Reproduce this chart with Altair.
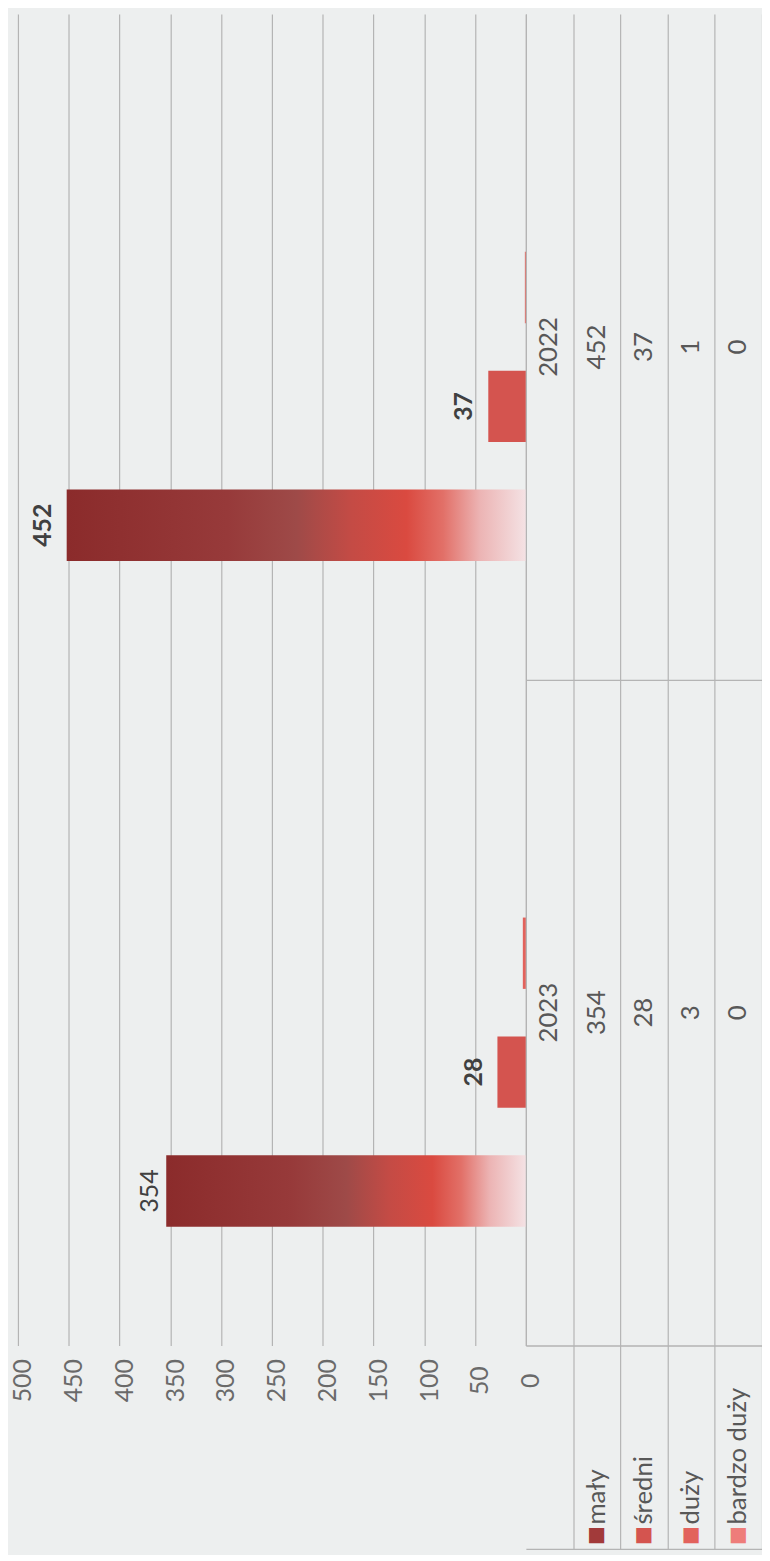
import altair as alt
import pandas as pd

# ---- data ----
years = ["2022", "2023"]
series = ["mały", "średni", "duży", "bardzo duży"]
values_2022 = [452, 37, 1, 0]
values_2023 = [354, 28, 3, 0]
axis_values = [0, 50, 100, 150, 200, 250, 300, 350, 400, 450, 500]
header_key = "rok"

# ---- styles ----
FONT = "Lato"
series_colors = ["#A23A3A", "#D4544F", "#E2625C", "#EE7D7A"]
GRID = "#b4b4b4"
W_PLOT, H_PLOT, W_TAB, H_LEG = 512, 1342, 238, 205

rows = []
for yr, vals in zip(years, [values_2022, values_2023]):
    for s, v in zip(series, vals):
        rows.append({"year": yr, "series": s, "value": v})
df = pd.DataFrame(rows)

table_rows = [{"year": yr, "col": header_key, "text": yr} for yr in years]
table_rows += [{"year": r["year"], "col": r["series"], "text": str(r["value"])} for r in rows]
tdf = pd.DataFrame(table_rows)

legend_df = pd.DataFrame({"series": series, "row": ["legend"] * len(series)})

gradient = alt.LinearGradient(
    gradient="linear", x1=0, x2=1, y1=0, y2=0,
    stops=[
        alt.GradientStop(offset=0.0, color="#8B2B2B"),
        alt.GradientStop(offset=0.35, color="#973A3A"),
        alt.GradientStop(offset=0.50, color="#9E4A48"),
        alt.GradientStop(offset=0.62, color="#C44B45"),
        alt.GradientStop(offset=0.74, color="#DA4A40"),
        alt.GradientStop(offset=0.82, color="#E27068"),
        alt.GradientStop(offset=0.90, color="#ECB4B4"),
        alt.GradientStop(offset=1.0, color="#F4E2E4"),
    ],
)

x_enc = alt.X(
    "value:Q",
    scale=alt.Scale(domain=[0, 500], reverse=True, nice=False, zero=True),
    axis=alt.Axis(values=axis_values, grid=True, gridColor=GRID, gridWidth=1.2,
                  domain=False, ticks=False, tickSize=0, labelAngle=270,
                  labelAlign="center", labelBaseline="middle", labelPadding=35,
                  labelOffset=5,
                  labelFontSize=25, labelFont=FONT, labelColor="#6a6a6a",
                  labelFlush=False, labelOverlap=False, title=None),
)
y_enc = alt.Y("year:N", sort=years, scale=alt.Scale(paddingInner=0, paddingOuter=0), axis=None)
yoff = alt.YOffset("series:N", sort=series[::-1],
                   scale=alt.Scale(paddingInner=0.4, paddingOuter=1))
color_enc = alt.Color("series:N", scale=alt.Scale(domain=series, range=series_colors), legend=None)

base = alt.Chart(df).encode(x=x_enc, y=y_enc, yOffset=yoff)
bars_main = base.transform_filter(alt.datum.series == series[0]).mark_bar(color=gradient)
bars_other = base.transform_filter(alt.datum.series != series[0]).mark_bar().encode(color=color_enc)

label_base = base.transform_filter(
    (alt.datum.series == series[0]) | (alt.datum.series == series[1])
)
is_plain = (alt.datum.year == years[1]) & (alt.datum.series == series[0])
labels_plain = label_base.transform_filter(is_plain).mark_text(
    angle=270, align="center", baseline="middle", dy=-16, fontSize=25,
    font=FONT, color="#404040").encode(text="value:Q")
labels_bold = label_base.transform_filter(~is_plain).mark_text(
    angle=270, align="center", baseline="middle", dy=-24, fontSize=25,
    font=FONT, fontWeight="bold", color="#404040").encode(text="value:Q")

left = alt.layer(bars_main, bars_other, labels_plain, labels_bold).properties(
    width=W_PLOT, height=H_PLOT)

# ---- data table ----
cols = [header_key] + series
xt = alt.X("col:N", sort=cols, scale=alt.Scale(domain=cols, paddingInner=0, paddingOuter=0),
           axis=alt.Axis(grid=True, tickBand="extent", gridColor=GRID, gridWidth=1.2,
                         labels=False, ticks=False, domain=False, title=None))
yt = alt.Y("year:N", sort=years, scale=alt.Scale(paddingInner=0, paddingOuter=0),
           axis=alt.Axis(grid=True, tickBand="extent", values=[years[1]], gridColor=GRID,
                         gridWidth=1.2, labels=False, ticks=False, domain=False, title=None))
table = alt.Chart(tdf).mark_text(
    angle=270, align="center", baseline="middle", fontSize=26, font=FONT, color="#585858"
).encode(x=xt, y=yt, text="text:N").properties(width=W_TAB, height=H_PLOT)

# ---- legend rows ----
xl = alt.X("series:N", sort=cols, scale=alt.Scale(domain=cols, paddingInner=0, paddingOuter=0),
           axis=alt.Axis(grid=True, tickBand="extent", values=series, gridColor=GRID,
                         gridWidth=1.2, labels=False, ticks=False, domain=False, title=None))
yl = alt.Y("row:N", scale=alt.Scale(paddingInner=0, paddingOuter=0),
           axis=alt.Axis(grid=True, tickBand="extent", gridColor=GRID, gridWidth=1.2,
                         labels=False, ticks=False, domain=False, title=None))
leg_base = alt.Chart(legend_df).encode(x=xl, y=yl)
leg_text = leg_base.mark_text(angle=270, align="left", baseline="middle", dx=-78,
                              fontSize=26, font=FONT, color="#585858").encode(text="series:N")
leg_swatch = leg_base.mark_text(text="■", align="center", baseline="middle", dy=89,
                                fontSize=20, font="DejaVu Sans").encode(color=color_enc)
legend = alt.layer(leg_text, leg_swatch).properties(width=W_TAB, height=H_LEG)

right = alt.vconcat(table, legend, spacing=0, bounds="flush")

chart = alt.hconcat(left, right, spacing=0, bounds="flush").properties(
    padding={"left": 2, "top": 0, "right": 0, "bottom": 0}, background="#edefef"
).configure_view(stroke=None)

chart.save("out.html", embed_options={"renderer": "svg", "actions": False})
